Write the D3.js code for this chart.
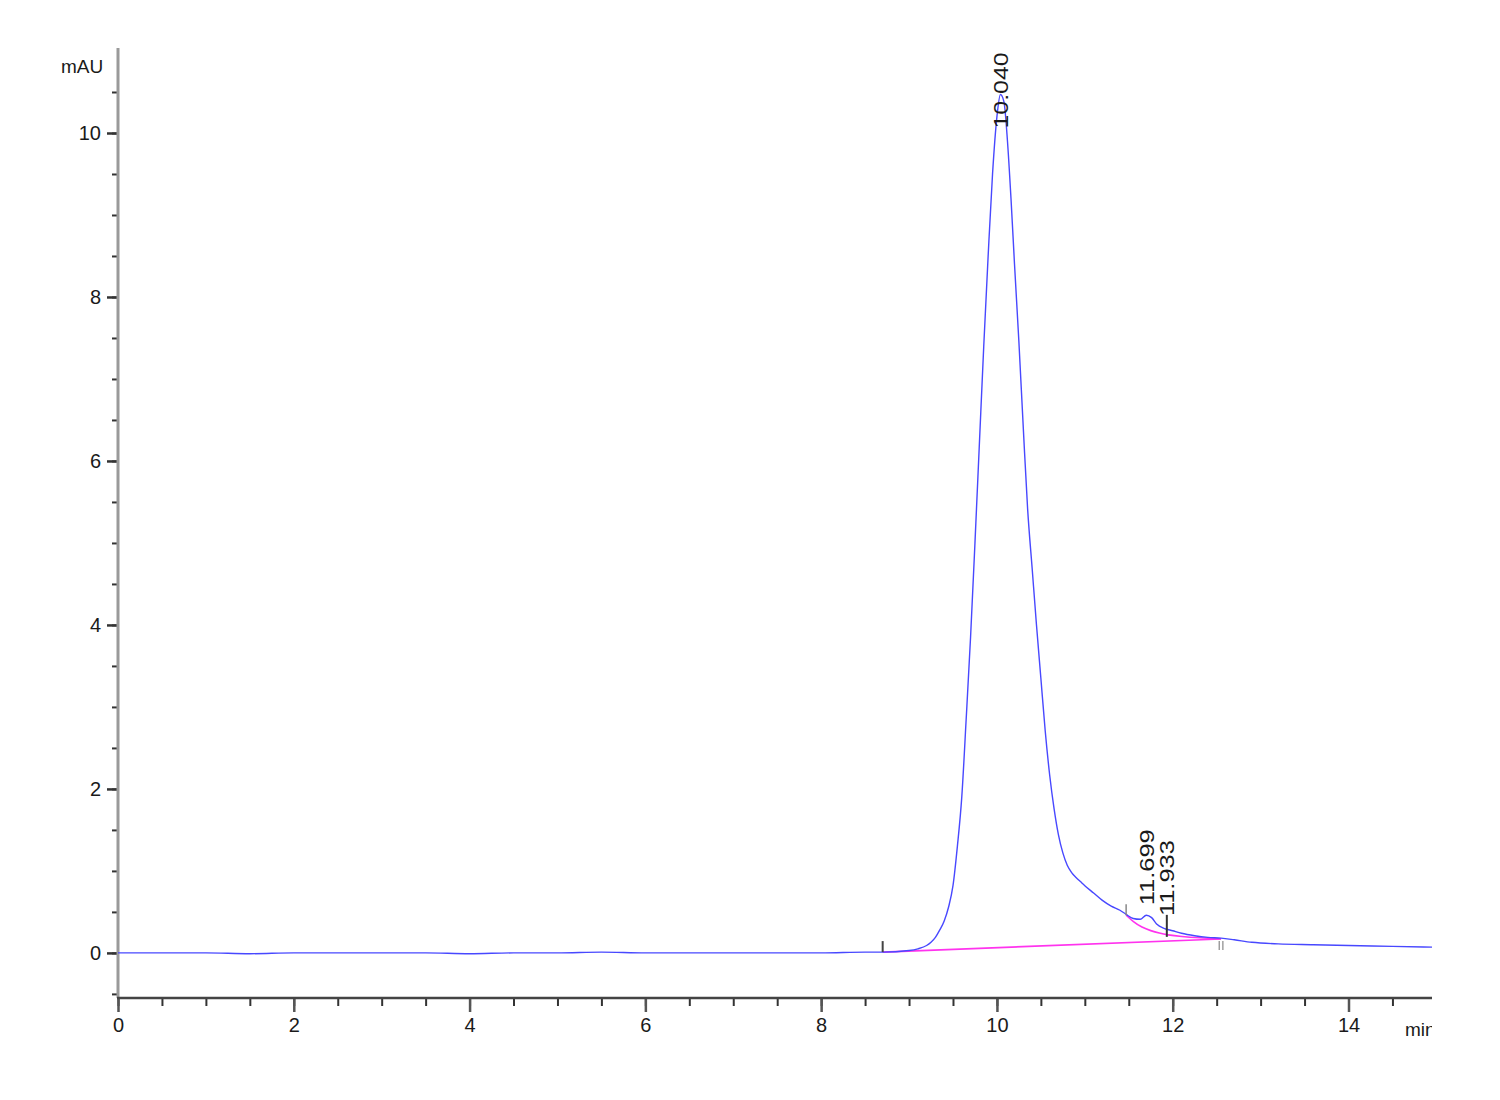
<!DOCTYPE html>
<html>
<head>
<meta charset="utf-8">
<script src="https://cdn.jsdelivr.net/npm/d3@7"></script>
<style>
  html, body { margin: 0; padding: 0; background: #fff; }
  svg { display: block; }
  text { font-family: "Liberation Sans", Arial, sans-serif; fill: #1a1a1a; }
</style>
</head>
<body>
<svg id="chart" width="1500" height="1100"></svg>
<script>
// ---- data ----
const times = [0,0.5,1,1.5,2,2.5,3,3.5,4,4.5,5,5.5,6,6.5,7,7.5,8,8.5,8.7,9.0,9.1,9.2,9.25,9.3,9.35,9.4,9.45,9.5,9.55,9.6,9.65,9.7,9.75,9.8,9.85,9.9,9.95,10.0,10.04,10.08,10.12,10.16,10.2,10.25,10.3,10.35,10.4,10.45,10.5,10.55,10.6,10.65,10.7,10.75,10.8,10.85,10.9,10.95,11.0,11.1,11.2,11.3,11.4,11.47,11.55,11.63,11.7,11.76,11.82,11.9,12.0,12.1,12.25,12.4,12.55,12.7,12.9,13.2,13.6,14.0,14.5,14.95];
const signal = [0.0,0.0,0.0,-0.01,0.0,0.0,0.0,0.0,-0.01,0.0,0.0,0.01,0.0,0.0,0.0,0.0,0.0,0.01,0.01,0.03,0.05,0.09,0.13,0.19,0.28,0.39,0.56,0.82,1.3,1.9,2.85,3.85,5.0,6.2,7.4,8.5,9.5,10.2,10.47,10.38,9.9,9.2,8.4,7.45,6.4,5.4,4.7,4.0,3.35,2.7,2.17,1.76,1.44,1.22,1.07,0.98,0.92,0.87,0.82,0.73,0.64,0.57,0.52,0.47,0.42,0.41,0.46,0.43,0.35,0.30,0.27,0.24,0.21,0.19,0.18,0.16,0.13,0.11,0.10,0.09,0.08,0.07];

const baselineTimes = [8.7, 12.55];
const baselineValues = [0.01, 0.17];
const skimTimes = [11.47, 11.55, 11.65, 11.75, 11.85, 11.933, 12.1, 12.3, 12.55];
const skimValues = [0.46, 0.38, 0.31, 0.27, 0.24, 0.22, 0.20, 0.185, 0.17];

const peakTimes = [10.040, 11.699, 11.933];
const peakLabels = ["10.040", "11.699", "11.933"];

const xMajorTicks = [0, 2, 4, 6, 8, 10, 12, 14];
const yMajorTicks = [0, 2, 4, 6, 8, 10];
const yUnit = "mAU";
const xUnit = "min";

// ---- layout ----
const svg = d3.select("#chart");
const mLeft = 118, mRight = 1432, mTop = 51, mBottom = 998;
const x = d3.scaleLinear().domain([0, 14.95]).range([mLeft, mRight]);
const y = d3.scaleLinear().domain([-0.55, 11.0]).range([mBottom, mTop]);

const sigAt = t => {
  const i = d3.bisectLeft(times, t);
  if (i <= 0) return signal[0];
  if (i >= times.length) return signal[signal.length - 1];
  const t0 = times[i-1], t1 = times[i];
  return signal[i-1] + (signal[i] - signal[i-1]) * (t - t0) / (t1 - t0);
};

// ---- axes ----
const gx = svg.append("g").attr("transform", `translate(0,${mBottom})`);
gx.call(d3.axisBottom(x).tickValues(d3.range(0, 15, 0.5)).tickSize(8).tickFormat(""))
  .call(g => g.select(".domain").remove());
gx.selectAll(".tick line").attr("stroke", "#333").attr("stroke-width", 2);
const gxMaj = svg.append("g").attr("transform", `translate(0,${mBottom})`);
gxMaj.call(d3.axisBottom(x).tickValues(xMajorTicks).tickSize(14).tickPadding(6).tickFormat(d3.format("d")))
  .call(g => g.select(".domain").remove());
gxMaj.selectAll(".tick line").attr("stroke", "#555").attr("stroke-width", 2.5);
gxMaj.selectAll(".tick text").attr("font-size", 20).attr("fill", "#1a1a1a")
  .style("font-family", "'Liberation Sans', Arial, sans-serif");

const gy = svg.append("g").attr("transform", `translate(${mLeft},0)`);
gy.call(d3.axisLeft(y).tickValues(d3.range(-0.5, 10.6, 0.5)).tickSize(6).tickFormat(""))
  .call(g => g.select(".domain").remove());
gy.selectAll(".tick line").attr("stroke", "#333").attr("stroke-width", 2);
const gyMaj = svg.append("g").attr("transform", `translate(${mLeft},0)`);
gyMaj.call(d3.axisLeft(y).tickValues(yMajorTicks).tickSize(11).tickPadding(6).tickFormat(d3.format("d")))
  .call(g => g.select(".domain").remove());
gyMaj.selectAll(".tick line").attr("stroke", "#333").attr("stroke-width", 2.5);
gyMaj.selectAll(".tick text").attr("font-size", 20).attr("fill", "#1a1a1a")
  .style("font-family", "'Liberation Sans', Arial, sans-serif");

// axis lines
svg.append("line").attr("x1", mLeft).attr("x2", mLeft).attr("y1", 48).attr("y2", mBottom)
  .attr("stroke", "#9a9a9a").attr("stroke-width", 3);
svg.append("line").attr("x1", mLeft - 1).attr("x2", mRight).attr("y1", mBottom).attr("y2", mBottom)
  .attr("stroke", "#444").attr("stroke-width", 2.5);

// unit labels
svg.append("text").attr("x", 61).attr("y", 73).attr("font-size", 19).text(yUnit);
svg.append("defs").append("clipPath").attr("id", "clipUnit")
  .append("rect").attr("x", 0).attr("y", 0).attr("width", mRight).attr("height", 1100);
svg.append("text").attr("x", 1405).attr("y", 1036).attr("font-size", 19)
  .attr("clip-path", "url(#clipUnit)").text(xUnit);

// ---- curves ----
const lineGen = d3.line().x(d => x(d[0])).y(d => y(d[1])).curve(d3.curveMonotoneX);

svg.append("path")
  .datum(d3.zip(baselineTimes, baselineValues))
  .attr("d", lineGen).attr("fill", "none").attr("stroke", "#ff33ee").attr("stroke-width", 1.6);
svg.append("path")
  .datum(d3.zip(skimTimes, skimValues))
  .attr("d", d3.line().x(d => x(d[0])).y(d => y(d[1])).curve(d3.curveBasis))
  .attr("fill", "none").attr("stroke", "#ff33ee").attr("stroke-width", 1.6);

svg.append("path")
  .datum(d3.zip(times, signal))
  .attr("d", lineGen).attr("fill", "none").attr("stroke", "#4848ff").attr("stroke-width", 1.4);

// ---- integration markers ----
const mk = svg.append("g");
mk.append("line").attr("x1", x(baselineTimes[0])).attr("x2", x(baselineTimes[0]))
  .attr("y1", y(baselineValues[0]) - 11).attr("y2", y(baselineValues[0]))
  .attr("stroke", "#444").attr("stroke-width", 2);
mk.append("line").attr("x1", x(skimTimes[0])).attr("x2", x(skimTimes[0]))
  .attr("y1", y(sigAt(skimTimes[0])) - 10).attr("y2", y(sigAt(skimTimes[0])) + 1)
  .attr("stroke", "#888").attr("stroke-width", 1.5);
mk.append("line").attr("x1", x(peakTimes[2])).attr("x2", x(peakTimes[2]))
  .attr("y1", y(0.22) - 20).attr("y2", y(0.22) + 2)
  .attr("stroke", "#333").attr("stroke-width", 2);
[-1.8, 1.8].forEach(dx => {
  mk.append("line").attr("x1", x(baselineTimes[1]) + dx).attr("x2", x(baselineTimes[1]) + dx)
    .attr("y1", y(baselineValues[1]) + 2).attr("y2", y(baselineValues[1]) + 11)
    .attr("stroke", "#999").attr("stroke-width", 1.4);
});

// ---- peak labels ----
const labelOffsets = [34, -10, -13];
peakTimes.forEach((t, i) => {
  const ay = y(sigAt(t)) + labelOffsets[i];
  svg.append("text")
    .attr("transform", `translate(${x(t)},${ay}) rotate(-90)`)
    .attr("text-anchor", "start").attr("dominant-baseline", "central")
    .attr("font-size", 21).attr("textLength", 76).attr("lengthAdjust", "spacingAndGlyphs")
    .attr("fill", "#1a1a1a")
    .text(peakLabels[i]);
});
</script>
</body>
</html>
